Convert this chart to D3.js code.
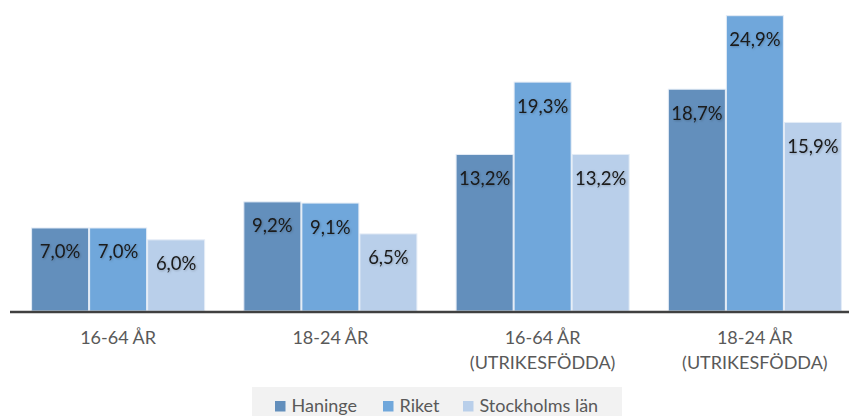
<!DOCTYPE html>
<html>
<head>
<meta charset="utf-8">
<script src="https://cdn.jsdelivr.net/npm/d3@7/dist/d3.min.js"></script>
<style>
  html, body { margin: 0; padding: 0; background: #fff; }
  svg { display: block; }
  text { font-family: Lato, "Open Sans", sans-serif; }
</style>
</head>
<body>
<svg id="chart" width="849" height="416"></svg>
<script>
const categories = [["16-64 ÅR"], ["18-24 ÅR"], ["16-64 ÅR", "(UTRIKESFÖDDA)"], ["18-24 ÅR", "(UTRIKESFÖDDA)"]];
const seriesNames = ["Haninge", "Riket", "Stockholms län"];
const haninge = [7.0, 9.2, 13.2, 18.7];
const riket = [7.0, 9.1, 19.3, 24.9];
const stockholm = [6.0, 6.5, 13.2, 15.9];
const colors = ["#638fbc", "#70a7db", "#b9cfea"];

const seriesValues = [haninge, riket, stockholm];
const W = 849, H = 416;
const svg = d3.select("#chart");

const x0 = d3.scaleBand().domain(d3.range(categories.length)).range([12, 861]).paddingInner(0.18).paddingOuter(0.09);
const x1 = d3.scaleBand().domain(d3.range(seriesNames.length)).range([0, x0.bandwidth()]);
const y = d3.scaleLinear().domain([0, 25]).range([311, 14.5]);

const fmt = v => d3.format(".1f")(v).replace(".", ",") + "%";

const defs = svg.append("defs");
const f = defs.append("filter").attr("id", "sh").attr("x", "-20%").attr("y", "-20%").attr("width", "140%").attr("height", "140%");
f.append("feDropShadow").attr("dx", 0.8).attr("dy", 0.8).attr("stdDeviation", 0.8).attr("flood-color", "#000").attr("flood-opacity", 0.25);

const groups = svg.append("g").selectAll("g").data(categories).join("g")
  .attr("transform", (d, i) => `translate(${x0(i)},0)`);

groups.each(function(cat, ci) {
  const g = d3.select(this);
  seriesValues.forEach((vals, si) => {
    const v = vals[ci];
    g.append("rect")
      .attr("x", x1(si) + 0.5)
      .attr("y", y(v))
      .attr("width", x1.bandwidth() - 1)
      .attr("height", y(0) - y(v))
      .attr("fill", colors[si])
      .attr("stroke", "#e4ecf6")
      .attr("stroke-width", 1);
    g.append("text")
      .attr("x", x1(si) + x1.bandwidth() / 2)
      .attr("y", y(v) + 24)
      .attr("dy", "0.35em")
      .attr("text-anchor", "middle")
      .attr("font-size", 18.5)
      .attr("fill", "#1a1a1a")
      .attr("filter", "url(#sh)")
      .text(fmt(v));
  });
});

// axis baseline
const xAxis = d3.axisBottom(x0).tickSize(0).tickFormat("");
const ax = svg.append("g").attr("transform", `translate(0,${y(0) + 1})`).call(xAxis);
ax.select(".domain").attr("d", `M10,0H${W}`).attr("stroke", "#404040").attr("stroke-width", 2.5);

// category labels
const labels = svg.append("g");
categories.forEach((lines, i) => {
  const t = labels.append("text")
    .attr("x", x0(i) + x0.bandwidth() / 2)
    .attr("y", 338)
    .attr("text-anchor", "middle")
    .attr("font-size", 18)
    .attr("fill", "#595959");
  lines.forEach((ln, li) => {
    t.append("tspan").attr("x", x0(i) + x0.bandwidth() / 2).attr("y", 338 + li * 25).attr("dy", "0.35em").text(ln);
  });
});

// legend
const lg = svg.append("g");
lg.append("rect").attr("x", 252).attr("y", 387).attr("width", 370).attr("height", 29).attr("fill", "#f2f2f2");
const legendX = [275, 383, 463];
seriesNames.forEach((n, i) => {
  lg.append("rect").attr("x", legendX[i]).attr("y", 401).attr("width", 10.5).attr("height", 10.5).attr("fill", colors[i]);
  lg.append("text").attr("x", legendX[i] + 16.5).attr("y", 406).attr("dy", "0.35em")
    .attr("font-size", 18).attr("fill", "#595959").text(n);
});
</script>
</body>
</html>
